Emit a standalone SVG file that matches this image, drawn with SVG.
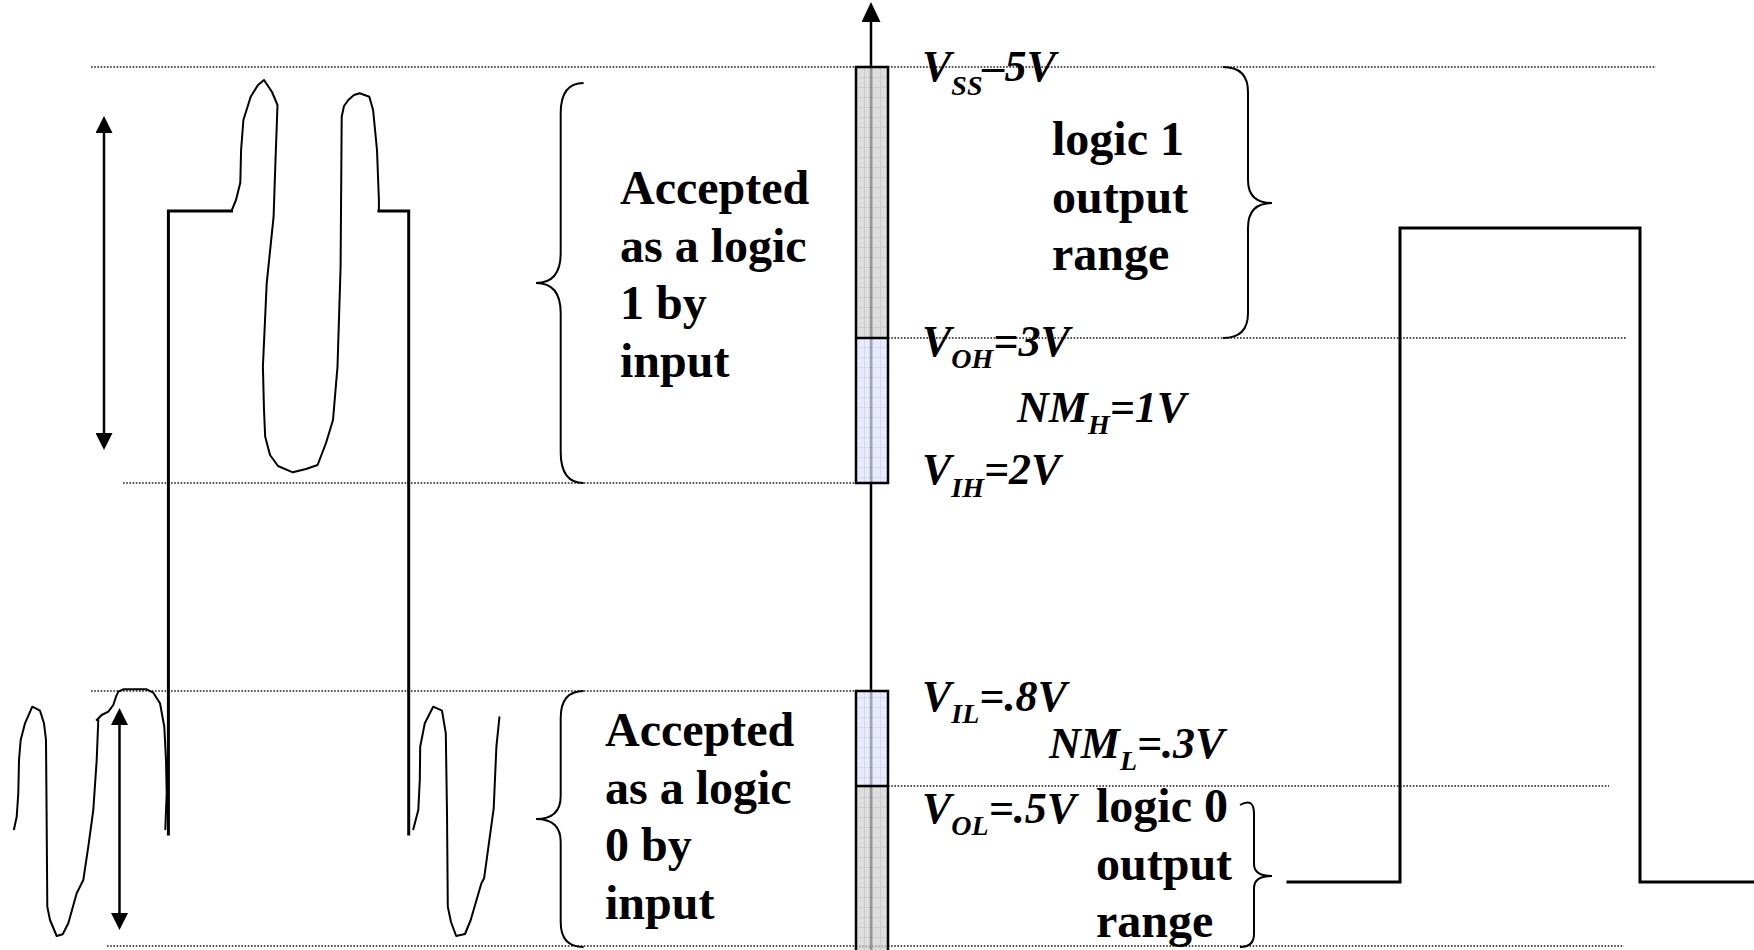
<svg xmlns="http://www.w3.org/2000/svg" width="1754" height="950" viewBox="0 0 1754 950">
<style>
.dot{stroke:#1a1a1a;stroke-width:1.6;stroke-dasharray:1.6 1.6;fill:none}
.thick{stroke:#000;stroke-width:3;fill:none;stroke-linecap:square}
.thin{stroke:#000;stroke-width:2;fill:none;stroke-linejoin:round;stroke-linecap:round}
.brace{stroke:#000;stroke-width:2;fill:none}
.arr{stroke:#000;stroke-width:2.5;fill:none}
.b{font-family:"Liberation Serif","Times New Roman",serif;font-weight:bold;font-size:48px;fill:#000}
.bi{font-family:"Liberation Serif","Times New Roman",serif;font-weight:bold;font-style:italic;font-size:44px;fill:#000}
.sub{font-size:28px}
.outline{fill:none;stroke:#000;stroke-width:2.5}
</style>
<defs>
<marker id="ah" markerUnits="userSpaceOnUse" markerWidth="17" markerHeight="17" refX="0" refY="8.5" orient="auto-start-reverse" viewBox="0 0 17 17">
<path d="M0 0 L17 8.5 L0 17 Z" fill="#000"/>
</marker>
<marker id="ax" markerUnits="userSpaceOnUse" markerWidth="20" markerHeight="19" refX="0" refY="9.5" orient="auto" viewBox="0 0 20 19">
<path d="M0 0 L20 9.5 L0 19 Z" fill="#000"/>
</marker>
<pattern id="gGray" width="8" height="10" patternUnits="userSpaceOnUse" x="856" y="67">
<rect width="8" height="10" fill="#d0d0d0"/>
<path d="M0 0.5H8M0.5 0V10" stroke="#b8b8b8" stroke-width="1"/>
</pattern>
<pattern id="gBlue" width="8" height="10" patternUnits="userSpaceOnUse" x="856" y="67">
<rect width="8" height="10" fill="#e2e2fc"/>
<path d="M0 0.5H8M0.5 0V10" stroke="#c8c8f2" stroke-width="1"/>
</pattern>
</defs>
<rect width="1754" height="950" fill="#fff"/>

<g id="gridlines">
<line class="dot" x1="91" y1="67" x2="1656" y2="67"/>
<line class="dot" x1="888" y1="338" x2="1626" y2="338"/>
<line class="dot" x1="123" y1="483" x2="856" y2="483"/>
<line class="dot" x1="91" y1="691" x2="856" y2="691"/>
<line class="dot" x1="888" y1="786" x2="1609" y2="786"/>
<line class="dot" x1="107" y1="946" x2="1624" y2="946"/>
</g>

<g id="axis">
<line x1="871" y1="950" x2="871" y2="22" stroke="#000" stroke-width="2.5" marker-end="url(#ax)"/>
</g>

<g id="bar-upper">
<rect x="856" y="67" width="32" height="271" fill="url(#gGray)" opacity="0.72"/>
<rect x="856" y="338" width="32" height="145" fill="url(#gBlue)" opacity="0.72"/>
<rect class="outline" x="856" y="67" width="32" height="416"/>
<line x1="856" y1="338" x2="888" y2="338" stroke="#000" stroke-width="2.5"/>
</g>
<g id="bar-lower">
<rect x="856" y="691" width="32" height="95" fill="url(#gBlue)" opacity="0.72"/>
<rect x="856" y="786" width="32" height="170" fill="url(#gGray)" opacity="0.72"/>
<rect class="outline" x="856" y="691" width="32" height="265"/>
<line x1="856" y1="786" x2="888" y2="786" stroke="#000" stroke-width="2.5"/>
</g>

<g id="input-wave">
<path class="thick" d="M168.4 834 L168.4 211 L231.5 211"/>
<path class="thin" d="M231.5 211 L236 200 L240.3 182.7 L241.1 150 L243.4 120 L250.7 96.7 L258 85 L264 80 L272 92 L277.5 105 L275.5 160 L273.6 216.7 L266.7 283.3 L262.9 366.7 L264 410 L265.2 436.7 L270 455 L278 466 L292.8 472.3 L306 469 L317.6 465 L326 443 L333 420 L337.5 366.7 L340.6 266.7 L341.7 116.7 L344 106 L348.3 100 L354 95 L359.7 93.3 L369.3 96.7 L373.1 110 L377 150 L378.9 200 L378.9 211"/>
<path class="thick" d="M378.9 211 L408.7 211 L408.7 834"/>
</g>

<g id="noise-low-left">
<path class="thin" d="M14 829.3 L16.7 816.7 L18.3 793.3 L19 760 L20.7 740 L25 723.3 L32.3 706.7 L40 710.7 L44 723.3 L46 740 L46.7 826.7 L47.3 906.7 L50 920 L56.7 936 L62.7 934.3 L68.3 923.3 L76.7 893.3 L83.3 880 L88.3 846.7 L93.3 810 L96.7 760 L98.3 720"/>
<path class="thin" d="M96.7 720 L101.7 715 L108.3 711.7 L113.3 705 L116 696.7 L118.3 691.7 L123.3 689.3 L146.7 689.3 L153.3 692.7 L160 703.3 L164.3 726.7 L166 760 L166.7 793.3 L165.3 829.3"/>
</g>

<g id="noise-low-right">
<path class="thin" d="M413.3 829.3 L418.3 810 L419.8 780 L420.2 746.7 L424.8 723.3 L433.2 706.7 L442 710.7 L445.8 733.3 L447 813.3 L447.8 906.7 L451 922 L456.2 936 L465 934 L470.7 920 L481.4 883.3 L484.1 878.3 L493.7 808.3 L496.4 746.7 L499.4 717.3"/>
</g>

<g id="swing-arrows">
<line class="arr" x1="104" y1="133" x2="104" y2="433" marker-start="url(#ah)" marker-end="url(#ah)"/>
<line class="arr" x1="119.5" y1="725" x2="119.5" y2="913" marker-start="url(#ah)" marker-end="url(#ah)"/>
</g>

<g id="output-wave">
<path class="thick" d="M1288 882 L1400 882 L1400 228 L1640 228 L1640 882 L1754 882"/>
</g>

<g id="accepted-1">
<path class="brace" d="M583.6 83 Q560.7 83 560.7 113 L560.7 253 Q560.7 283 536 283 Q560.7 283 560.7 313 L560.7 452 Q560.7 483 583.6 483"/>
<text class="b"><tspan x="620" y="204">Accepted</tspan><tspan x="620" y="261.5">as a logic</tspan><tspan x="620" y="319">1 by</tspan><tspan x="620" y="376.5">input</tspan></text>
</g>

<g id="accepted-0">
<path class="brace" d="M583.6 691 Q560.7 691 560.7 718 L560.7 796 Q560.7 819 536 819 Q560.7 819 560.7 842 L560.7 922 Q560.7 947 583.6 947"/>
<text class="b"><tspan x="605" y="746">Accepted</tspan><tspan x="605" y="803.5">as a logic</tspan><tspan x="605" y="861">0 by</tspan><tspan x="605" y="918.5">input</tspan></text>
</g>

<g id="logic1-output">
<path class="brace" d="M1223 67 Q1248 67 1248 92 L1248 180 Q1248 203 1272 203 Q1248 203 1248 228 L1248 313 Q1248 338 1223 338"/>
<text class="b"><tspan x="1052" y="155">logic 1</tspan><tspan x="1052" y="212.5">output</tspan><tspan x="1052" y="270">range</tspan></text>
</g>

<g id="logic0-output">
<path class="brace" d="M1240 805 Q1254 797 1254 814 L1254 864 Q1254 876 1272 876 Q1254 876 1254 888 L1254 934 Q1254 947 1240 947"/>
<text class="b"><tspan x="1096" y="822">logic 0</tspan><tspan x="1096" y="879.5">output</tspan><tspan x="1096" y="937">range</tspan></text>
</g>

<g id="labels">
<text class="bi" x="922" y="81">V<tspan class="sub" dy="14">SS</tspan><tspan dy="-14">–5V</tspan></text>
<text class="bi" x="922" y="356">V<tspan class="sub" dy="12">OH</tspan><tspan dy="-12">=3V</tspan></text>
<text class="bi" x="1017" y="422">NM<tspan class="sub" dy="12">H</tspan><tspan dy="-12">=1V</tspan></text>
<text class="bi" x="922" y="484">V<tspan class="sub" dy="13">IH</tspan><tspan dy="-13">=2V</tspan></text>
<text class="bi" x="922" y="711">V<tspan class="sub" dy="12">IL</tspan><tspan dy="-12">=.8V</tspan></text>
<text class="bi" x="1049" y="758">NM<tspan class="sub" dy="12">L</tspan><tspan dy="-12">=.3V</tspan></text>
<text class="bi" x="922" y="823">V<tspan class="sub" dy="12">OL</tspan><tspan dy="-12">=.5V</tspan></text>
</g>
</svg>
